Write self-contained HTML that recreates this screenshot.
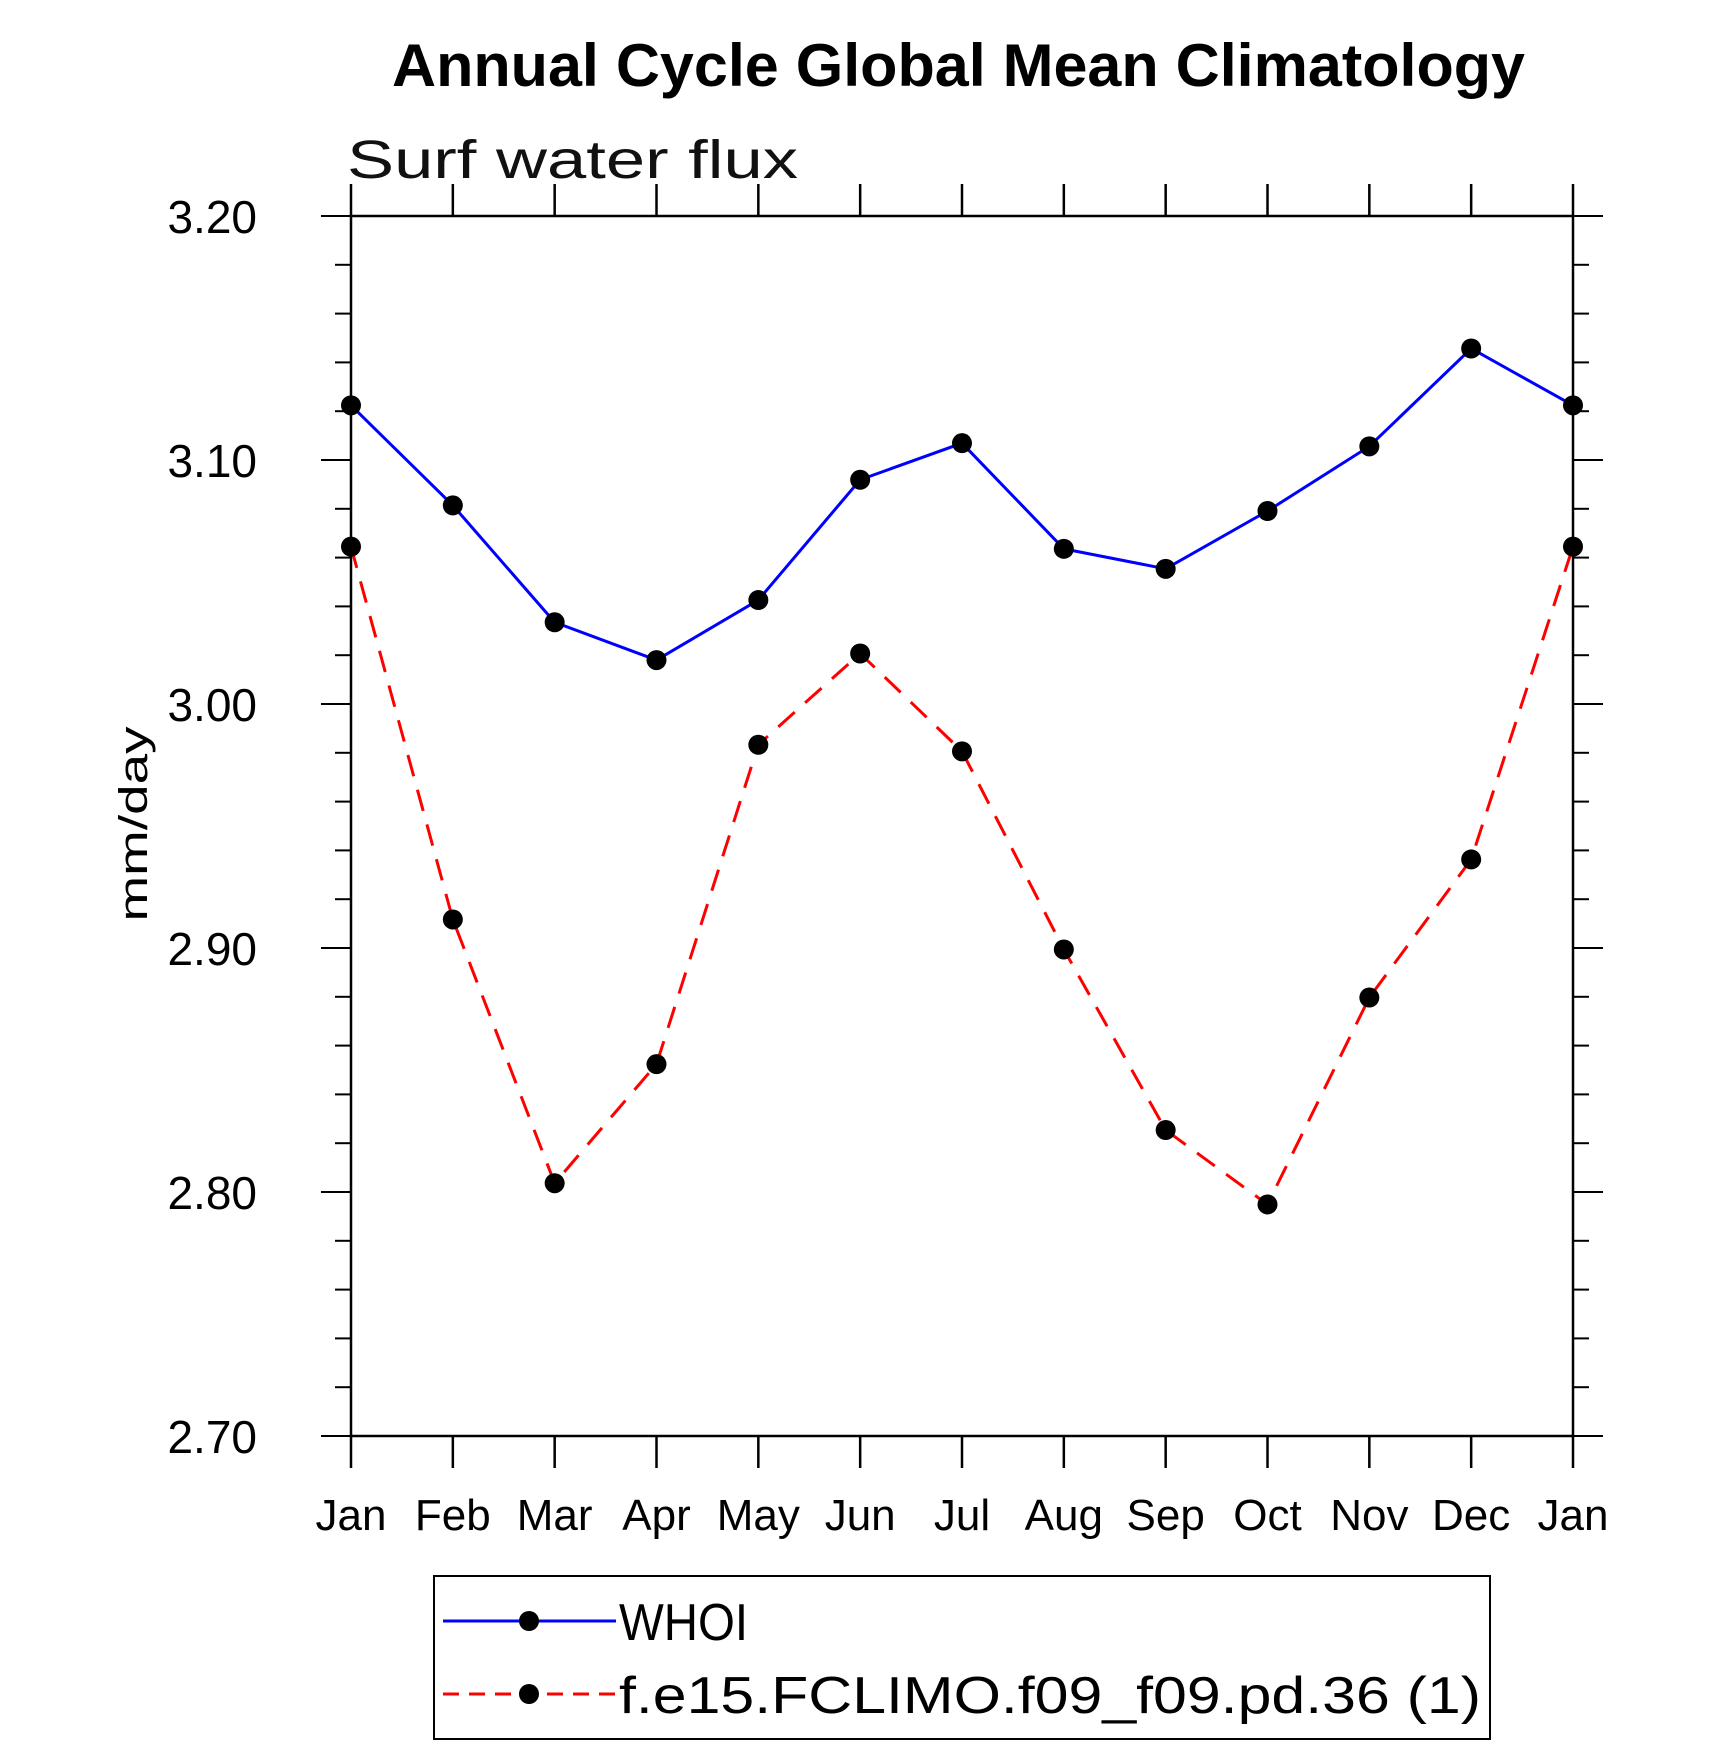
<!DOCTYPE html>
<html><head><meta charset="utf-8"><style>
body{margin:0;background:#fff;}
svg text{font-family:"Liberation Sans",sans-serif;}
</style></head><body>
<svg id="chart" width="1710" height="1746" viewBox="0 0 1710 1746" xmlns="http://www.w3.org/2000/svg">
<text x="392" y="86" font-size="60" font-weight="bold" textLength="1133" lengthAdjust="spacingAndGlyphs">Annual Cycle Global Mean Climatology</text>
<text x="347" y="178" font-size="54" textLength="451" lengthAdjust="spacingAndGlyphs" fill="#111">Surf water flux</text>
<text x="0" y="0" font-size="40" text-anchor="middle" textLength="195" lengthAdjust="spacingAndGlyphs" transform="translate(147,824) rotate(-90)">mm/day</text>
<g id="axes"></g>
<g id="series"></g>
<g>
<rect x="434" y="1576" width="1056" height="163" fill="none" stroke="#000" stroke-width="2"/>
<line x1="443" y1="1621" x2="616" y2="1621" stroke="#00f" stroke-width="3"/>
<circle cx="529" cy="1621" r="10"/>
<text x="619" y="1640" font-size="52" textLength="129" lengthAdjust="spacingAndGlyphs">WHOI</text>
<line x1="443" y1="1694" x2="616" y2="1694" stroke="#f00" stroke-width="3" stroke-dasharray="16,10"/>
<circle cx="529" cy="1694" r="10"/>
<text x="619" y="1713" font-size="52" textLength="862" lengthAdjust="spacingAndGlyphs">f.e15.FCLIMO.f09_f09.pd.36 (1)</text>
</g>
</svg>
<script>
const months = ["Jan","Feb","Mar","Apr","May","Jun","Jul","Aug","Sep","Oct","Nov","Dec","Jan"];
const whoi = [3.1224,3.0814,3.0335,3.018,3.0426,3.0919,3.1069,3.0636,3.0554,3.0791,3.1056,3.1457,3.1224];
const model = [3.0645,2.9117,2.8036,2.8524,2.9833,3.0207,2.9806,2.8994,2.8254,2.7949,2.8797,2.9363,3.0645];
const yTicks = ["2.70","2.80","2.90","3.00","3.10","3.20"];
const NS="http://www.w3.org/2000/svg";
const L=351,R=1573,T=216,B=1436,yMin=2.7,yMax=3.2;
const xs=i=>L+(R-L)*i/(months.length-1);
const ys=v=>B-(v-yMin)/(yMax-yMin)*(B-T);
function mk(tag,attrs,parent){const e=document.createElementNS(NS,tag);for(const k in attrs)e.setAttribute(k,attrs[k]);parent.appendChild(e);return e;}
const ax=document.getElementById('axes');
let f=mk('rect',{x:L,y:T,width:R-L,height:B-T,fill:'none',stroke:'#000','stroke-width':2.5},ax);


months.forEach((m,i)=>{
  const x=xs(i);
  let t=mk('line',{x1:x,x2:x,y1:B,y2:B+32,stroke:'#000','stroke-width':2.5},ax);
  
  
  let t2=mk('line',{x1:x,x2:x,y1:T,y2:T-32,stroke:'#000','stroke-width':2.5},ax);
  
  
  let lb=mk('text',{x:x,y:1530,'font-size':44,'text-anchor':'middle'},ax);
  lb.textContent=m;
  
  
});
for(let k=0;k<=25;k++){
  const v=yMin+k*0.02,y=ys(v),maj=k%5===0,len=maj?30:16;
  let a=mk('line',{x1:L-len,x2:L,y1:y,y2:y,stroke:'#000','stroke-width':2},ax);
  
  
  let b=mk('line',{x1:R,x2:R+len,y1:y,y2:y,stroke:'#000','stroke-width':2},ax);
  
  
}
yTicks.forEach(s=>{
  let lb=mk('text',{x:257,y:ys(parseFloat(s))+17,'font-size':46,'text-anchor':'end'},ax);
  lb.textContent=s;
  
  
});
const sg=document.getElementById('series');
function draw(vals,color,dash,name){
  const pts=vals.map((v,i)=>xs(i)+','+ys(v)).join(' ');
  const attrs={points:pts,fill:'none',stroke:color,'stroke-width':3};
  if(dash)attrs['stroke-dasharray']=dash;
  let pl=mk('polyline',attrs,sg);
  
  
  vals.forEach((v,i)=>{
    let c=mk('circle',{cx:xs(i),cy:ys(v),r:10,fill:'#000'},sg);
    
    
  });
}
draw(model,'#f00','22,14','model');
draw(whoi,'#00f',null,'whoi');
</script>
</body></html>
